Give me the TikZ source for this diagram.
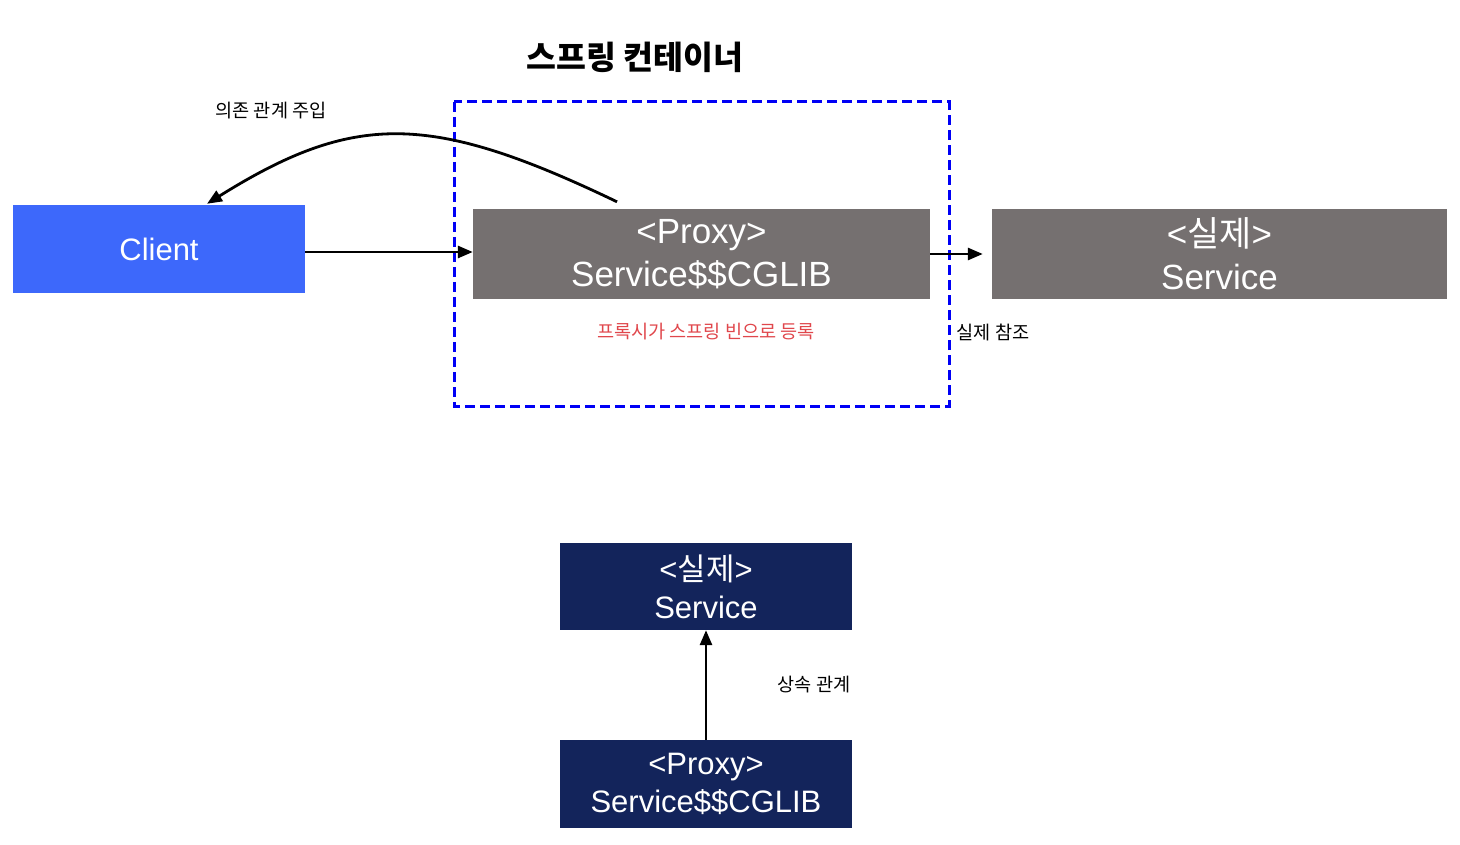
\documentclass[tikz,border=0pt]{standalone}
\usepackage{fontspec}
\setmainfont{Liberation Sans}
\newfontfamily\kr{Noto Sans CJK KR}
\usetikzlibrary{arrows.meta}
\definecolor{clientblue}{HTML}{3D68FB}
\definecolor{boxgray}{HTML}{757070}
\definecolor{navy}{HTML}{13245B}
\definecolor{redtxt}{HTML}{E0474C}
\definecolor{dashblue}{HTML}{0000F5}
\tikzset{
  box/.style={draw=none, inner sep=0pt, align=center, text=white},
  bigtext/.style={font=\fontsize{35}{43}\selectfont},
  smalltext/.style={font=\fontsize{31}{38}\selectfont},
  lbl/.style={inner sep=0pt, font=\kr\fontsize{18.6}{22}\selectfont},
  conn/.style={line width=2.8pt, -{Triangle[length=15pt,width=12pt]}},
}
\begin{document}
\begin{tikzpicture}[x=1pt,y=-1pt]
\useasboundingbox (0,0) rectangle (1460,845);
% title
\node[inner sep=0pt, font=\kr\bfseries\fontsize{32.5}{38}\selectfont] (title) at (635,57) {스프링 컨테이너};
% container
\draw[dashblue, line width=3pt, dash pattern=on 10pt off 5pt] (454,102) rectangle (949,406);
% boxes
\node[box, fill=clientblue, minimum width=292pt, minimum height=88pt, font=\fontsize{31}{38}\selectfont] (client) at (159,249) {Client};
\node[box, fill=boxgray, minimum width=457pt, minimum height=90pt, bigtext] (proxy) at (701.5,254) {<Proxy>\\Service\$\$CGLIB};
\node[box, fill=boxgray, minimum width=455pt, minimum height=90pt, bigtext] (real) at (1219.5,254) {<{\kr 실제}>\\Service};
\node[box, fill=navy, minimum width=292pt, minimum height=87pt, smalltext] (breal) at (706,586.5) {<{\kr 실제}>\\Service};
\node[box, fill=navy, minimum width=292pt, minimum height=88pt, smalltext] (bproxy) at (706,784) {<Proxy>\\Service\$\$CGLIB};
% labels
\node[lbl] (di) at (271,111) {의존 관계 주입};
\node[lbl, text=redtxt] (reg) at (706,332) {프록시가 스프링 빈으로 등록};
\node[lbl] (ref) at (993,332) {실제 참조};
\node[lbl] (inh) at (814,685) {상속 관계};
% connectors
\coordinate (cs) at ([xshift=-84.5pt,yshift=7pt]proxy.north);
\coordinate (ce) at ([xshift=48pt,yshift=1pt]client.north);
\draw[conn] (cs) .. controls (430,112) and (354,112) .. (ce);
\draw[conn] ([yshift=-3pt]client.east) -- ([yshift=-3pt]client.east -| proxy.west);
\draw[conn, shorten >=9pt] (proxy.east) -- (proxy.east -| real.west);
\draw[conn] (bproxy.north) -- (breal.south);
\end{tikzpicture}
\end{document}
